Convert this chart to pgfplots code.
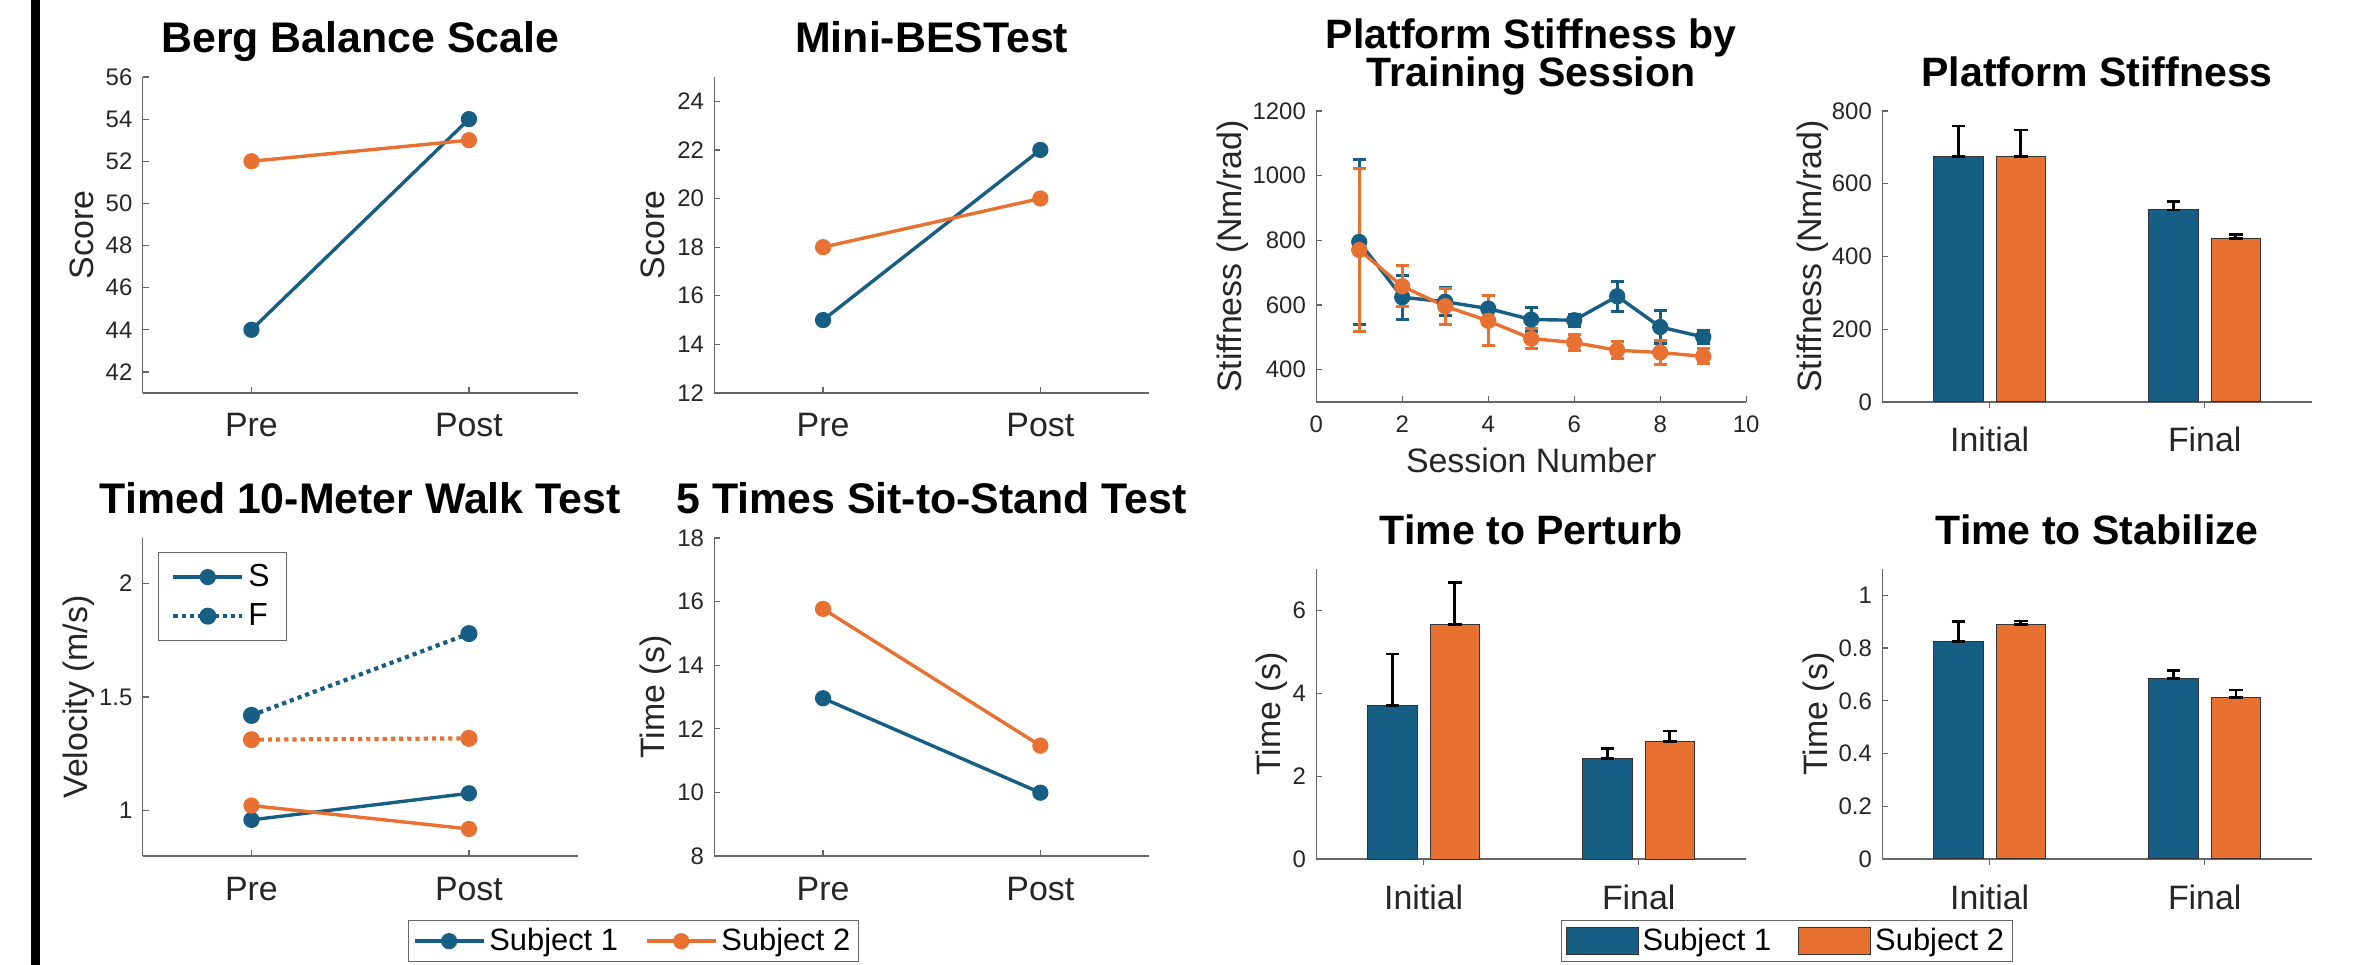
\documentclass[border=0pt]{standalone}
\usepackage{fontspec}
\setmainfont{Liberation Sans}
\usepackage{pgfplots}
\pgfplotsset{compat=1.18}

\definecolor{cA}{RGB}{22,94,131}
\definecolor{cB}{RGB}{232,113,50}
\definecolor{tk}{RGB}{38,38,38}

\newcommand\fT{\fontsize{21.5}{25}\selectfont\bfseries}
\newcommand\fTs{\fontsize{20.6}{24}\selectfont\bfseries}
\newcommand\fL{\fontsize{17}{20}\selectfont}
\newcommand\fN{\fontsize{12}{14}\selectfont}

\pgfplotsset{
  base/.style={
    scale only axis, clip=false, enlargelimits=false,
    axis x line*=bottom, axis y line*=left,
    axis line style={black!60, line width=0.6bp},
    tick style={black!60, line width=0.6bp},
    tick align=inside, major tick length=3bp,
    tick label style={font=\fN, text=tk},
    yticklabel style={anchor=east, inner sep=0pt, xshift=-5bp},
    title style={font=\fT, at={(0.5,1)}, anchor=base, yshift=6.5bp, inner sep=0pt},
    every axis y label/.style={rotate=90, anchor=base, font=\fL, text=tk, inner sep=0pt},
    every axis x label/.style={at={(axis description cs:0.5,0)}, anchor=base, yshift=-35.3bp, font=\fL, text=tk, inner sep=0pt},
    /pgf/number format/assume math mode=true,
    /pgf/number format/1000 sep={},
    scaled ticks=false,
  },
  right/.style={title style={font=\fTs}},
  cat/.style={xmin=0.5, xmax=2.5, xtick={1,2},
    xticklabel style={font=\fL, anchor=base, yshift=-22bp, inner sep=0pt}},
  sA/.style={color=cA, line width=1.7bp, mark=*, mark size=3.2bp, mark options={solid}},
  sB/.style={color=cB, line width=1.7bp, mark=*, mark size=3.2bp, mark options={solid}},
  dots/.style={line width=2.1bp, dash pattern=on 2.1bp off 2bp},
  lineleg/.style={legend image code/.code={\draw[mark repeat=2,mark phase=2,##1] plot coordinates {(0bp,0bp) (17.25bp,0bp) (34.5bp,0bp)};}},
  patchleg/.style={legend image code/.code={\draw[##1] (0bp,-6.75bp) rectangle (36bp,6.75bp);}},
  legbox/.style={legend style={draw=black!60, line width=0.5bp, fill=white, font=\fontsize{15.5}{18}\selectfont, text=black, inner xsep=2bp, inner ysep=2bp, /tikz/every even column/.append style={column sep=11.5bp}}},
  bars/.style={ybar, bar width=0.23, ymin=0},
  barA/.style={fill=cA, draw=black!80, line width=0.5bp, bar shift=-0.145},
  barB/.style={fill=cB, draw=black!80, line width=0.5bp, bar shift=0.145},
  ebar/.style={error bars/y dir=both, error bars/y explicit,
    error bars/error bar style={black, line width=1.4bp},
    error bars/error mark options={rotate=90, black, mark size=3.45bp, line width=1.4bp}},
  eA/.style={error bars/y dir=both, error bars/y explicit,
    error bars/error bar style={cA, line width=1.4bp, solid},
    error bars/error mark options={rotate=90, cA, mark size=3.3bp, line width=1.5bp}},
  eB/.style={error bars/y dir=both, error bars/y explicit,
    error bars/error bar style={cB, line width=1.4bp, solid},
    error bars/error mark options={rotate=90, cB, mark size=3.3bp, line width=1.5bp}},
}

\begin{document}
\begin{tikzpicture}
\useasboundingbox (0,0) rectangle (1179.5bp,482.5bp);
\fill[black] (15.4bp,0) rectangle (19.9bp,482.5bp);

% Berg Balance Scale
\begin{axis}[base, cat, at={(71.35bp,286bp)}, anchor=south west, width=217.5bp, height=158bp,
  ymin=41, ymax=56, ytick={42,44,46,48,50,52,54,56}, xticklabels={Pre,Post},
  title={Berg Balance Scale}, ylabel={Score}, ylabel style={at={(axis description cs:-0.1126,0.5)}}]
\addplot[sA] coordinates {(1,44) (2,54)};
\addplot[sB] coordinates {(1,52) (2,53)};
\end{axis}

% Mini-BESTest
\begin{axis}[base, cat, at={(357.2bp,286bp)}, anchor=south west, width=217.3bp, height=158bp,
  ymin=12, ymax=25, ytick={12,14,16,18,20,22,24}, xticklabels={Pre,Post},
  title={Mini-BESTest}, ylabel={Score}, ylabel style={at={(axis description cs:-0.1137,0.5)}}]
\addplot[sA] coordinates {(1,15) (2,22)};
\addplot[sB] coordinates {(1,18) (2,20)};
\end{axis}

% Timed 10-Meter Walk Test
\begin{axis}[base, cat, lineleg, legbox, at={(71.35bp,54.5bp)}, anchor=south west, width=217.5bp, height=159bp,
  ymin=0.8, ymax=2.2, ytick={1,1.5,2}, xticklabels={Pre,Post},
  title={Timed 10-Meter Walk Test}, ylabel={Velocity (m/s)}, ylabel style={at={(axis description cs:-0.1278,0.5)}},
  legend cell align=left,
  legend style={at={(0.0345,0.956)}, anchor=north west, font=\fontsize{16}{19}\selectfont, inner xsep=6.5bp, inner ysep=4bp, row sep=3bp}]
\addlegendimage{sA}
\addlegendentry{S}
\addlegendimage{sA,dots}
\addlegendentry{F}
\addplot[sA, forget plot] coordinates {(1,0.959) (2,1.076)};
\addplot[sA, dots, forget plot] coordinates {(1,1.419) (2,1.779)};
\addplot[sB, forget plot] coordinates {(1,1.022) (2,0.919)};
\addplot[sB, dots, forget plot] coordinates {(1,1.312) (2,1.318)};
\end{axis}

% 5 Times Sit-to-Stand Test
\begin{axis}[base, cat, lineleg, legbox, at={(357.2bp,54.5bp)}, anchor=south west, width=217.3bp, height=159bp,
  ymin=8, ymax=18, ytick={8,10,12,14,16,18}, xticklabels={Pre,Post},
  title={5 Times Sit-to-Stand Test}, ylabel={Time (s)}, ylabel style={at={(axis description cs:-0.1137,0.5)}},
  legend columns=2, legend style={at={(-0.186,-0.2013)}, anchor=north}]
\addplot[sA] coordinates {(1,12.96) (2,9.99)};
\addlegendentry{Subject 1}
\addplot[sB] coordinates {(1,15.77) (2,11.47)};
\addlegendentry{Subject 2}
\end{axis}

% Platform Stiffness by Training Session
\begin{axis}[base, right, at={(658.1bp,281.5bp)}, anchor=south west, width=215bp, height=145.5bp,
  xmin=0, xmax=10, xtick={0,2,4,6,8,10},
  xticklabel style={anchor=base, yshift=-15.3bp, inner sep=0pt},
  ymin=300, ymax=1200, ytick={400,600,800,1000,1200},
  title={Training Session}, xlabel={Session Number},
  ylabel={Stiffness (Nm/rad)}, ylabel style={at={(axis description cs:-0.1749,0.5)}}]
\addplot[sA, eA] coordinates {(1,795) +- (0,254) (2,624) +- (0,68) (3,610) +- (0,43) (4,589) +- (0,40) (5,555) +- (0,37) (6,553) +- (0,18) (7,627) +- (0,47) (8,532) +- (0,51) (9,501) +- (0,20)};
\addplot[sB, eB] coordinates {(1,770) +- (0,251) (2,658) +- (0,63) (3,596) +- (0,55) (4,551) +- (0,77) (5,496) +- (0,30) (6,484) +- (0,26) (7,460) +- (0,26) (8,453) +- (0,36) (9,441) +- (0,23)};
\node[font=\fTs, anchor=base, inner sep=0pt, yshift=31.35bp] at (axis description cs:0.5,1) {Platform Stiffness by};
\end{axis}

% Platform Stiffness bars
\begin{axis}[base, right, cat, bars, at={(941.1bp,281.5bp)}, anchor=south west, width=215bp, height=145.5bp,
  ymax=800, ytick={0,200,400,600,800}, xticklabels={Initial,Final},
  title={Platform Stiffness}, ylabel={Stiffness (Nm/rad)}, ylabel style={at={(axis description cs:-0.1423,0.5)}}]
\addplot[barA, ebar] coordinates {(1,674) += (0,85) -= (0,0) (2,528) += (0,23) -= (0,0)};
\addplot[barB, ebar] coordinates {(1,674) += (0,74) -= (0,0) (2,450) += (0,11) -= (0,0)};
\end{axis}

% Time to Perturb
\begin{axis}[base, right, cat, bars, patchleg, legbox, at={(658.1bp,53bp)}, anchor=south west, width=215bp, height=145bp,
  ymax=7, ytick={0,2,4,6}, xticklabels={Initial,Final},
  title={Time to Perturb}, ylabel={Time (s)}, ylabel style={at={(axis description cs:-0.0837,0.5)}},
  legend columns=2, legend style={at={(1.0943,-0.2103)}, anchor=north}]
\addlegendimage{fill=cA, draw=black!80, line width=0.5bp}
\addlegendentry{Subject 1}
\addlegendimage{fill=cB, draw=black!80, line width=0.5bp}
\addlegendentry{Subject 2}
\addplot[barA, ebar, forget plot] coordinates {(1,3.71) += (0,1.24) -= (0,0) (2,2.42) += (0,0.24) -= (0,0)};
\addplot[barB, ebar, forget plot] coordinates {(1,5.66) += (0,1.01) -= (0,0) (2,2.83) += (0,0.26) -= (0,0)};
\end{axis}

% Time to Stabilize
\begin{axis}[base, right, cat, bars, at={(941.1bp,53bp)}, anchor=south west, width=215bp, height=145bp,
  ymax=1.1, ytick={0,0.2,0.4,0.6,0.8,1}, xticklabels={Initial,Final},
  title={Time to Stabilize}, ylabel={Time (s)}, ylabel style={at={(axis description cs:-0.1284,0.5)}}]
\addplot[barA, ebar] coordinates {(1,0.826) += (0,0.076) -= (0,0) (2,0.685) += (0,0.029) -= (0,0)};
\addplot[barB, ebar] coordinates {(1,0.889) += (0,0.014) -= (0,0) (2,0.613) += (0,0.028) -= (0,0)};
\end{axis}
\end{tikzpicture}
\end{document}
